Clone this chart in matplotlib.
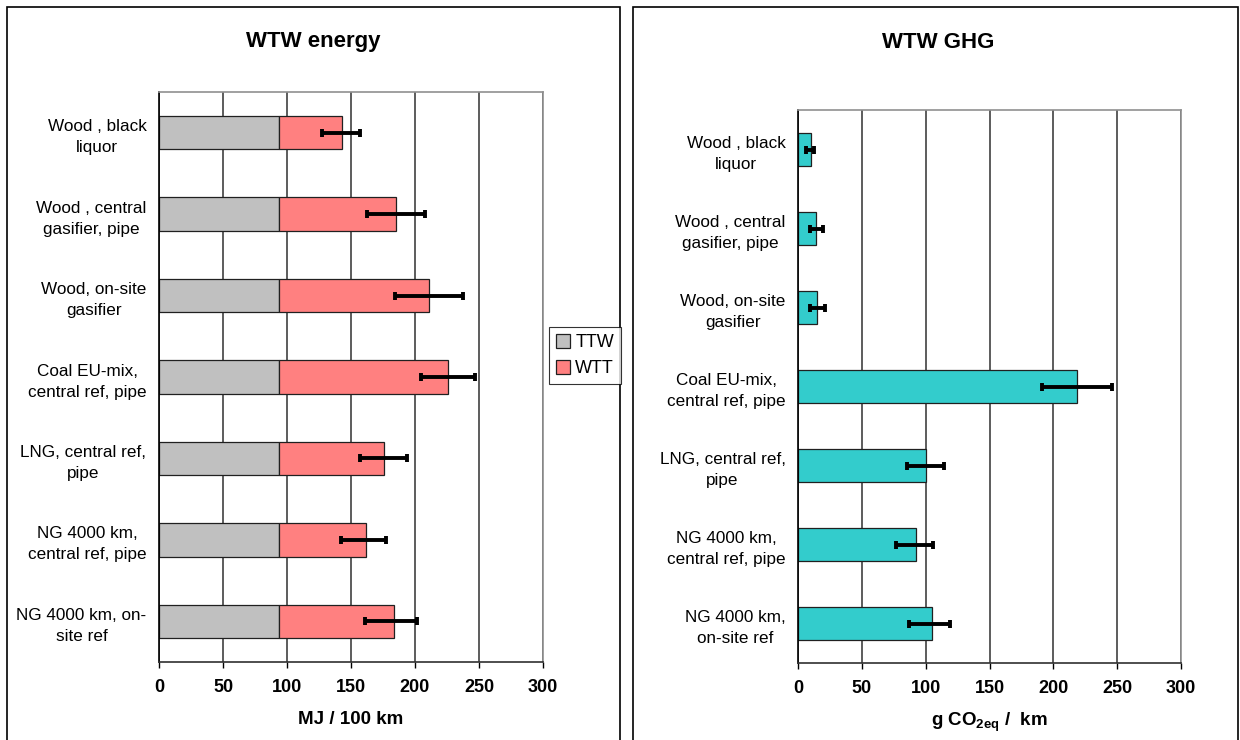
import matplotlib
matplotlib.use("Agg")
import matplotlib.pyplot as plt
from matplotlib.patches import Rectangle

plt.rcParams['font.family'] = ['Liberation Sans', 'DejaVu Sans']
plt.rcParams['mathtext.fontset'] = 'custom'
plt.rcParams['mathtext.rm'] = 'Liberation Sans:bold'
plt.rcParams['mathtext.bf'] = 'Liberation Sans:bold'

# pathway labels, top to bottom
energy_labels = ["Wood , black\nliquor", "Wood , central\ngasifier, pipe", "Wood, on-site\ngasifier",
                 "Coal EU-mix,\ncentral ref, pipe", "LNG, central ref,\npipe",
                 "NG 4000 km,\ncentral ref, pipe", "NG 4000 km, on-\nsite ref"]
ghg_labels = ["Wood , black\nliquor", "Wood , central\ngasifier, pipe", "Wood, on-site\ngasifier",
              "Coal EU-mix,\ncentral ref, pipe", "LNG, central ref,\npipe",
              "NG 4000 km,\ncentral ref, pipe", "NG 4000 km,\non-site ref"]

# WTW energy, MJ / 100 km
ttw = [93.7, 93.7, 93.7, 93.7, 93.7, 93.7, 93.7]
wtw_energy = [142.7, 185.5, 211.2, 225.5, 176.0, 161.7, 183.8]
energy_lo = [127.7, 162.2, 184.4, 204.4, 157.0, 141.9, 161.2]
energy_hi = [157.0, 207.8, 237.8, 246.9, 194.0, 177.1, 201.8]

# WTW GHG, g CO2eq / km
ghg = [10.0, 13.9, 14.9, 218.7, 99.9, 92.3, 104.6]
ghg_lo = [6.5, 9.7, 9.7, 191.3, 85.0, 76.6, 87.0]
ghg_hi = [12.3, 19.6, 20.9, 246.2, 114.2, 105.8, 118.9]

xticks = [0, 50, 100, 150, 200, 250, 300]

W, H = 1240, 740
fig = plt.figure(figsize=(12.4, 7.4), dpi=100)

# panel frames
fig.add_artist(Rectangle((7 / W, -0.05), 613 / W, 1 - 7 / H + 0.05, transform=fig.transFigure,
                         fill=False, edgecolor='black', linewidth=1.2))
fig.add_artist(Rectangle((633 / W, -0.05), 605 / W, 1 - 7 / H + 0.05, transform=fig.transFigure,
                         fill=False, edgecolor='black', linewidth=1.2))


def style_axes(ax, labels):
    n = len(labels)
    ax.set_xlim(0, 300)
    ax.set_ylim(n - 0.5, -0.5)
    ax.set_xticks(xticks)
    ax.set_xticklabels([str(t) for t in xticks], fontweight='bold', fontsize=13)
    ax.set_yticks(range(n))
    ax.set_yticklabels(labels, fontsize=12.3, multialignment='center', linespacing=1.5)
    ax.tick_params(axis='y', length=0, pad=9)
    ax.tick_params(axis='x', length=4, width=1, direction='out', pad=8)
    ax.xaxis.grid(True, color='#303030', linewidth=1.1)
    ax.set_axisbelow(True)
    ax.spines['top'].set_color('#909090')
    ax.spines['right'].set_color('#909090')
    ax.spines['left'].set_color('black')
    ax.spines['bottom'].set_color('#303030')
    for s in ax.spines.values():
        s.set_linewidth(1.2)


pos = list(range(len(energy_labels)))

# left: WTW energy
ax1 = fig.add_axes([159 / W, 1 - 662 / H, 384 / W, 570 / H])
wtt = [t - b for t, b in zip(wtw_energy, ttw)]
ax1.barh(pos, ttw, height=0.41, color='#C0C0C0', edgecolor='#202020', linewidth=0.9, label='TTW')
ax1.barh(pos, wtt, left=ttw, height=0.41, color='#FF8080', edgecolor='#202020', linewidth=0.9, label='WTT')
ax1.errorbar(wtw_energy, pos,
             xerr=[[v - lo for v, lo in zip(wtw_energy, energy_lo)],
                   [hi - v for v, hi in zip(wtw_energy, energy_hi)]],
             fmt='none', ecolor='black', elinewidth=2.8, capsize=3, capthick=2.8)
style_axes(ax1, energy_labels)
ax1.set_xlabel('MJ / 100 km', fontweight='bold', fontsize=13.5, labelpad=11)

# right: WTW GHG
ax2 = fig.add_axes([798 / W, 1 - 663 / H, 383 / W, 553 / H])
ax2.barh(pos, ghg, height=0.42, color='#33CCCC', edgecolor='#202020', linewidth=0.9)
ax2.errorbar(ghg, pos,
             xerr=[[v - lo for v, lo in zip(ghg, ghg_lo)],
                   [hi - v for v, hi in zip(ghg, ghg_hi)]],
             fmt='none', ecolor='black', elinewidth=2.8, capsize=3, capthick=2.8)
style_axes(ax2, ghg_labels)
ax2.set_xlabel(r'g CO$_{\mathbf{2eq}}$ /  km', fontweight='bold', fontsize=13.5, labelpad=10)

fig.text(313 / W, 1 - 42 / H, 'WTW energy', ha='center', va='center', fontweight='bold', fontsize=16)
fig.text(938 / W, 1 - 42 / H, 'WTW GHG', ha='center', va='center', fontweight='bold', fontsize=16)

leg = fig.legend(loc='upper left', bbox_to_anchor=(549 / W, 1 - 327 / H), fontsize=13,
                 frameon=True, fancybox=False, edgecolor='black', handlelength=0.75,
                 handleheight=0.75, handletextpad=0.3, borderpad=0.4, labelspacing=0.5,
                 borderaxespad=0)
leg.get_frame().set_linewidth(0.8)

fig.savefig('out.png', dpi=100)
